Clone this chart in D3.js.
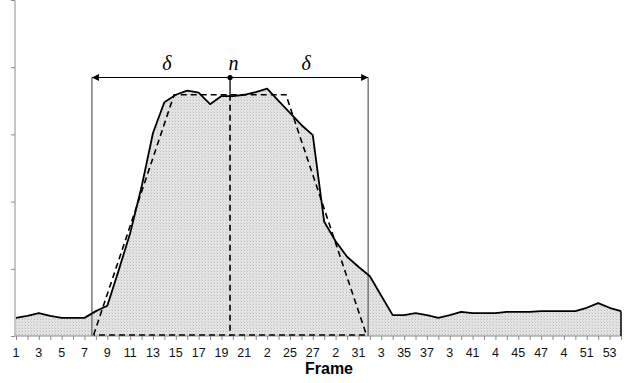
<!DOCTYPE html>
<html><head><meta charset="utf-8">
<script src="https://cdn.jsdelivr.net/npm/d3@7"></script>
<style>body{margin:0;background:#fff}svg{display:block}</style>
</head><body><svg id="c" width="635" height="383"></svg>
<script>
const frames = [1,2,3,4,5,6,7,8,9,10,11,12,13,14,15,16,17,18,19,20,21,22,23,24,25,26,27,28,29,30,31,32,33,34,35,36,37,38,39,40,41,42,43,44,45,46,47,48,49,50,51,52,53,54];
const values = [0.27,0.30,0.34,0.30,0.27,0.27,0.27,0.37,0.45,0.98,1.53,2.22,3.02,3.48,3.59,3.65,3.62,3.45,3.57,3.57,3.59,3.63,3.68,3.50,3.32,3.14,2.99,1.70,1.41,1.18,1.03,0.89,0.60,0.31,0.31,0.34,0.31,0.27,0.31,0.36,0.34,0.34,0.34,0.36,0.36,0.36,0.37,0.37,0.37,0.37,0.42,0.49,0.42,0.37];
const tickFrames = [1,3,5,7,9,11,13,15,17,19,21,23,25,27,29,31,33,35,37,39,41,43,45,47,49,51,53];
const tickLabels = ["1","3","5","7","9","11","13","15","17","19","21","2","25","27","2","31","3","35","37","3","41","4","45","47","4","51","53"];
const yTicks = [0,1,2,3,4,5];
// annotation model: centre frame n, half-width delta, plateau corners
const nFrame = [19.75];
const delta = [12.1];
const trapezoid = [[7.8,0],[14.85,3.59],[24.65,3.59],[31.7,0]];
const labels = ["δ","n","δ"];
const xAxisTitle = "Frame";

const svg = d3.select("#c");
const x = d3.scaleLinear().domain([1,54]).range([16,621]);
const y = d3.scaleLinear().domain([0,5]).range([336,0]);

const defs = svg.append("defs");
const pat = defs.append("pattern").attr("id","dots").attr("width",3).attr("height",3).attr("patternUnits","userSpaceOnUse");
pat.append("rect").attr("width",3).attr("height",3).attr("fill","#e4e4e4");
pat.append("rect").attr("x",1).attr("y",1).attr("width",1).attr("height",1).attr("fill","#bcbcbc");
pat.append("rect").attr("x",0).attr("y",0).attr("width",1).attr("height",1).attr("fill","#d2d2d2");

const pts = frames.map((f,i)=>[f,values[i]]);

// area
svg.append("path").datum(pts)
  .attr("d", d3.area().x(d=>x(d[0])).y0(y(0)).y1(d=>y(d[1])))
  .attr("fill","url(#dots)");

// axes
const yAxis = svg.append("g").attr("transform",`translate(${x(1)-1},0)`)
  .call(d3.axisLeft(y).tickValues(yTicks).tickSize(4).tickFormat(""));
yAxis.selectAll("path,line").attr("stroke","#8c8c8c");
yAxis.select(".domain").attr("d",`M-4,0.5H0V${y(0)}`);

const xAxis = svg.append("g").attr("transform",`translate(0,${y(0)})`)
  .call(d3.axisBottom(x).tickValues(frames).tickSize(4).tickFormat(""));
xAxis.selectAll("path,line").attr("stroke","#8c8c8c");
xAxis.select(".domain").attr("d",`M${x(1)-1},0H${x(54)}`);

svg.append("g").selectAll("text").data(tickFrames).join("text")
  .attr("x",d=>x(d)).attr("y",357)
  .attr("text-anchor","middle")
  .attr("font-family","Liberation Sans, Arial, sans-serif")
  .attr("font-size",12.5).attr("fill","#111")
  .text((d,i)=>tickLabels[i]);

svg.append("text").attr("x",329).attr("y",374).attr("text-anchor","middle")
  .attr("font-family","Liberation Sans, Arial, sans-serif").attr("font-weight","bold")
  .attr("font-size",16).attr("fill","#000").text(xAxisTitle);

// bracket verticals
const xl = x(nFrame[0]-delta[0]), xr = x(nFrame[0]+delta[0]), xn = x(nFrame[0]);
const arrowY = 77.5;
[xl,xr].forEach(v=>{
  svg.append("line").attr("x1",v).attr("x2",v).attr("y1",arrowY).attr("y2",y(0))
    .attr("stroke","#666").attr("stroke-width",1.3);
});

// dashed trapezoid
svg.append("path").datum(trapezoid.concat([trapezoid[0]]))
  .attr("d", d3.line().x(d=>x(d[0])).y(d=>y(d[1])-(d[1]===0?1:0)))
  .attr("fill","none").attr("stroke","#000").attr("stroke-width",1.6).attr("stroke-dasharray","6,4");

// centre line
svg.append("line").attr("x1",xn).attr("x2",xn).attr("y1",arrowY).attr("y2",y(trapezoid[1][1]))
  .attr("stroke","#000").attr("stroke-width",1.3);
svg.append("line").attr("x1",xn).attr("x2",xn).attr("y1",y(trapezoid[1][1])).attr("y2",y(0))
  .attr("stroke","#000").attr("stroke-width",1.6).attr("stroke-dasharray","6,4");

// data line
svg.append("path").datum(pts)
  .attr("d", d3.line().x(d=>x(d[0])).y(d=>y(d[1])))
  .attr("fill","none").attr("stroke","#000").attr("stroke-width",1.8).attr("stroke-linejoin","round");
svg.append("line").attr("x1",x(54)).attr("x2",x(54)).attr("y1",y(values[values.length-1])).attr("y2",y(0))
  .attr("stroke","#000").attr("stroke-width",1.5);

// arrow
defs.append("marker").attr("id","ah").attr("viewBox","0 0 10 10").attr("refX",10).attr("refY",5)
  .attr("markerWidth",9).attr("markerHeight",7).attr("markerUnits","userSpaceOnUse").attr("orient","auto-start-reverse")
  .append("path").attr("d","M0,0L10,5L0,10Z").attr("fill","#000");
svg.append("line").attr("x1",xl).attr("x2",xr).attr("y1",arrowY).attr("y2",arrowY)
  .attr("stroke","#000").attr("stroke-width",1.2)
  .attr("marker-start","url(#ah)").attr("marker-end","url(#ah)");
svg.append("circle").attr("cx",xn).attr("cy",arrowY).attr("r",2.6).attr("fill","#000");

const lx = [ (xl+xn)/2+6, xn+3.5, (xn+xr)/2+7 ];
svg.append("g").selectAll("text").data(labels).join("text")
  .attr("x",(d,i)=>lx[i]).attr("y",70).attr("text-anchor","middle")
  .attr("font-family","Liberation Serif, Times New Roman, serif").attr("font-style","italic")
  .attr("font-size",20).attr("fill","#000").text(d=>d);
</script></body></html>
